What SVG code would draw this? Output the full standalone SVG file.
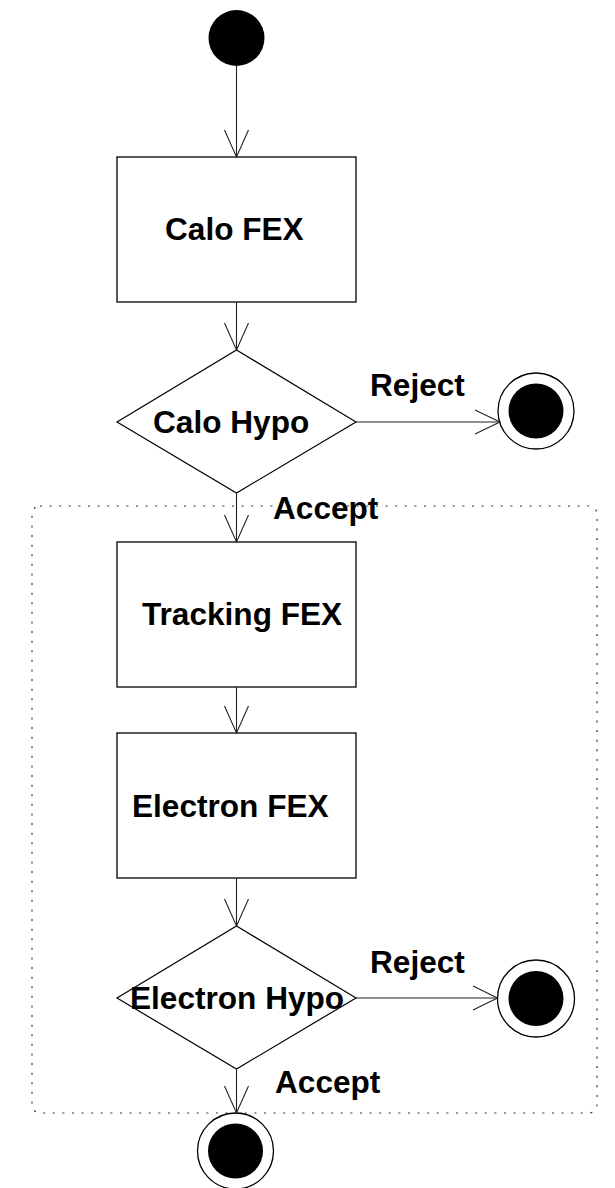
<svg xmlns="http://www.w3.org/2000/svg" width="615" height="1188" viewBox="0 0 615 1188">
<style>
.box{fill:#fff;stroke:#000;stroke-width:1.3}
.dia{fill:#fff;stroke:#000;stroke-width:1.2}
.edge{fill:none;stroke:#222;stroke-width:1.1}
.head{fill:none;stroke:#222;stroke-width:1.1}
.lbl{font-family:"Liberation Sans",Arial,Helvetica,sans-serif;font-weight:bold;font-size:31.6px;fill:#000}
.fin{fill:#fff;stroke:#000;stroke-width:1.3}
.dot{fill:#000}
.frame{fill:none;stroke:#333;stroke-width:1.2;stroke-dasharray:2 7.6}
</style>
<rect class="frame" x="32" y="506" width="565" height="607" rx="8"/>
<g id="start"><circle class="dot" cx="236.5" cy="38" r="28"/></g>
<g id="calo-fex"><rect class="box" x="117" y="157" width="239" height="145"/><text class="lbl" x="165" y="240">Calo FEX</text></g>
<g id="calo-hypo"><polygon class="dia" points="236.5,350 356,422 236.5,493 117,422"/><text class="lbl" x="153" y="433">Calo Hypo</text></g>
<g id="reject1-end"><circle class="fin" cx="536" cy="411" r="38"/><circle class="dot" cx="536" cy="411" r="27.5"/></g>
<g id="tracking-fex"><rect class="box" x="117" y="542" width="239" height="145"/><text class="lbl" x="142" y="625">Tracking FEX</text></g>
<g id="electron-fex"><rect class="box" x="117" y="733" width="239" height="145"/><text class="lbl" x="132" y="817">Electron FEX</text></g>
<g id="electron-hypo"><polygon class="dia" points="236.5,926 356,998 236.5,1069 117,998"/><text class="lbl" x="130" y="1009">Electron Hypo</text></g>
<g id="reject2-end"><circle class="fin" cx="536" cy="998.5" r="38.5"/><circle class="dot" cx="536" cy="998.5" r="27.5"/></g>
<g id="accept-end"><circle class="fin" cx="235.5" cy="1151" r="38"/><circle class="dot" cx="235.5" cy="1151" r="27.5"/></g>
<g id="connectors">
<path class="edge" d="M236.5,66V157"/><path class="head" d="M224.5,130L236.5,157L248.5,130"/>
<path class="edge" d="M236.5,302V350"/><path class="head" d="M224.5,323L236.5,350L248.5,323"/>
<path class="edge" d="M356,422H500"/><path class="head" d="M475,410L500,422L475,434"/>
<text class="lbl" x="370" y="396">Reject</text>
<path class="edge" d="M236.5,493V542"/><path class="head" d="M224.5,515L236.5,542L248.5,515"/>
<text class="lbl" x="273" y="519">Accept</text>
<path class="edge" d="M236.5,687V733"/><path class="head" d="M224.5,706L236.5,733L248.5,706"/>
<path class="edge" d="M236.5,878V926"/><path class="head" d="M224.5,899L236.5,926L248.5,899"/>
<path class="edge" d="M356,998H497.5"/><path class="head" d="M473,986L497.5,998L473,1010"/>
<text class="lbl" x="370" y="973">Reject</text>
<path class="edge" d="M236.5,1069V1113"/><path class="head" d="M224.5,1086L236.5,1113L248.5,1086"/>
<text class="lbl" x="275" y="1093">Accept</text>
</g>
</svg>
